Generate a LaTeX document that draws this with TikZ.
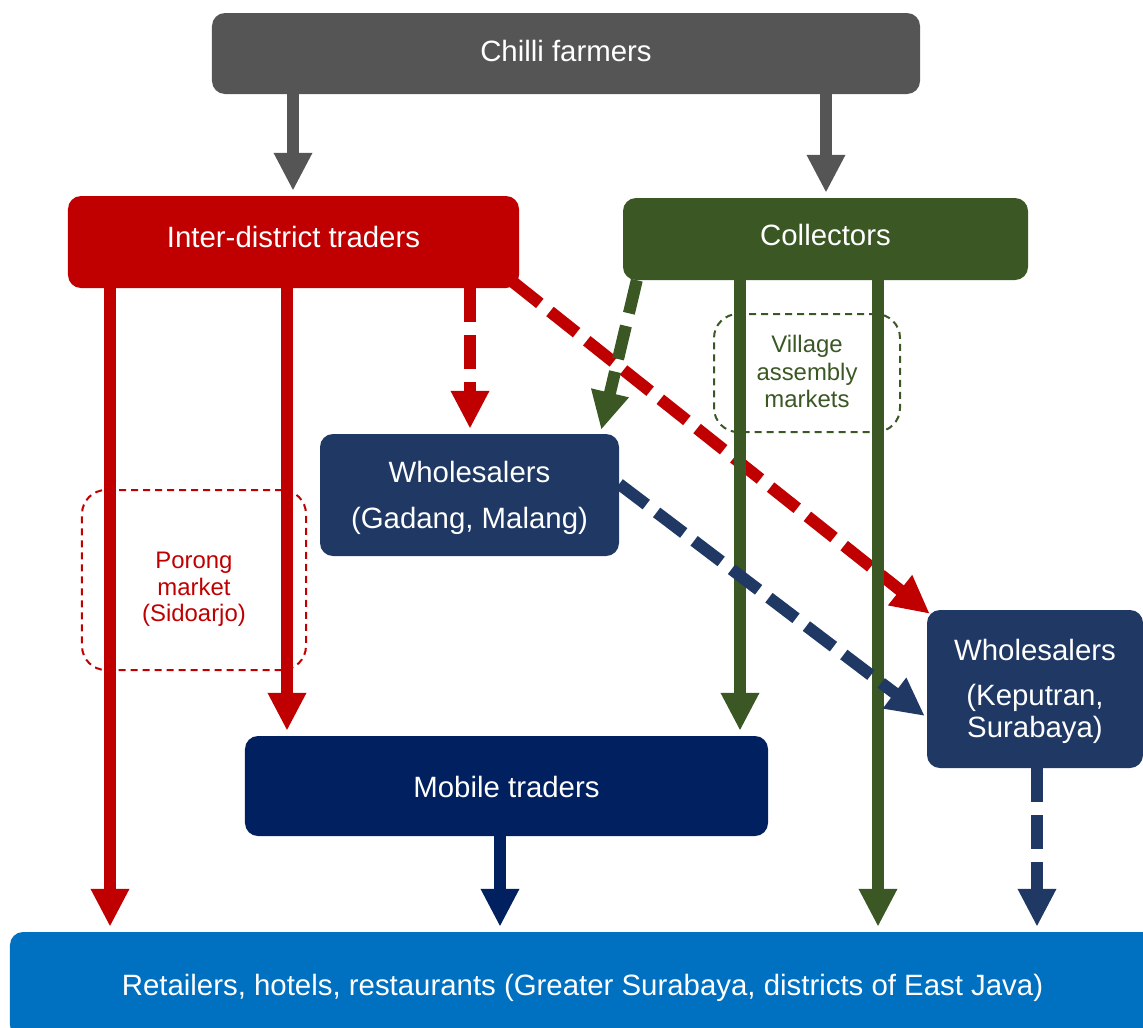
\documentclass[tikz,border=0pt]{standalone}
\usepackage{fontspec}
\setmainfont{Liberation Sans}
\usetikzlibrary{arrows.meta,calc}

\definecolor{farmgray}{HTML}{555555}
\definecolor{tradered}{HTML}{C00000}
\definecolor{collgreen}{HTML}{3A5724}
\definecolor{wsblue}{HTML}{1F3864}
\definecolor{mobnavy}{HTML}{002060}
\definecolor{retblue}{HTML}{0070C0}

\begin{document}
\begin{tikzpicture}[x=1bp,y=-1bp,
  box/.style={rounded corners=13bp, text=white, align=center, inner sep=0pt,
    font=\fontsize{29.5}{34}\selectfont, text height=21bp},
  market/.style={rounded corners=24bp, dashed, line width=2bp,
    dash pattern=on 7bp off 5bp, align=center, inner sep=0pt,
    font=\fontsize{24}{27}\selectfont, text depth=0bp},
  flow/.style={line width=12bp, -{Triangle[width=36bp,length=38bp]}, shorten >=5bp},
  flowdash/.style={flow, dash pattern=on 34bp off 13bp}
]
\path[use as bounding box] (0,0) rectangle (1143,1028);
\clip (0,0) rectangle (1143,1028);

% dashed market outlines
\node[market, draw=tradered, text=tradered, minimum width=224bp, minimum height=180bp,
  font=\fontsize{24}{26.5}\selectfont, text height=83bp]
  (porong) at (194,580) {Porong\\market\\(Sidoarjo)};
\node[market, draw=collgreen, text=collgreen, minimum width=186bp, minimum height=118bp,
  font=\fontsize{24}{27.5}\selectfont, text height=69bp]
  (village) at (807,373) {Village\\assembly\\markets};

% actors
\node[box, fill=farmgray, minimum width=708bp, minimum height=81bp, text depth=5bp]
  (farm) at (566,53.5) {Chilli farmers};
\node[box, fill=tradered, minimum width=451bp, minimum height=92bp, text depth=10bp]
  (inter) at (293.5,242) {Inter-district traders};
\node[box, fill=collgreen, minimum width=405bp, minimum height=82bp, text depth=8bp]
  (coll) at (825.5,239) {Collectors};
\node[box, fill=wsblue, minimum width=299bp, minimum height=122bp,
  text height=67bp, text depth=0bp]
  (wsg) at (469.5,495) {Wholesalers\\[12bp](Gadang, Malang)};
\node[box, fill=wsblue, minimum width=216bp, minimum height=158bp,
  font=\fontsize{29.5}{32}\selectfont, text height=97bp, text depth=0bp]
  (wsk) at (1035,689) {Wholesalers\\[13bp](Keputran,\\Surabaya)};
\node[box, fill=mobnavy, minimum width=523bp, minimum height=100bp,
  text height=23bp, text depth=0bp]
  (mobile) at (506.5,786) {Mobile traders};
\node[box, fill=retblue, minimum width=1145bp, minimum height=106bp, text depth=0bp]
  (retail) at (582.5,985) {Retailers, hotels, restaurants (Greater Surabaya, districts of East Java)};

% x positions of the vertical connectors
\coordinate (xa) at (293,0);
\coordinate (xb) at (826,0);
\coordinate (xc) at (110,0);
\coordinate (xd) at (287,0);
\coordinate (xe) at (470,0);
\coordinate (xf) at (740,0);
\coordinate (xg) at (878,0);
\coordinate (xh) at (500,0);
\coordinate (xk) at (1037,0);

% farmers
\draw[flow, farmgray] (farm.south -| xa) -- (inter.north -| xa);
\draw[flow, farmgray] (farm.south -| xb) -- (coll.north -| xb);

% inter-district traders
\draw[flow, tradered] (inter.south -| xc) -- (retail.north -| xc);
\draw[flow, tradered] (inter.south -| xd) -- (mobile.north -| xd);
\draw[flowdash, tradered] (inter.south -| xe) -- (wsg.north -| xe);
\draw[flowdash, tradered, shorten >=0pt]
  ($(inter.south east)+(-6,-6)$) -- ($(wsk.north west)+(3,4)$);

% collectors
\draw[flow, collgreen] (coll.south -| xf) -- (mobile.north -| xf);
\draw[flow, collgreen] (coll.south -| xg) -- (retail.north -| xg);
\draw[flowdash, collgreen, shorten >=0pt]
  ($(coll.south west)+(14,0)$) -- ($(wsg.north east)+(-18,-4)$);

% wholesalers and mobile traders
\draw[flowdash, wsblue, shorten >=0pt]
  ($(wsg.east)+(0,-11)$) -- ($(wsk.west)+(-2,27)$);
\draw[flowdash, wsblue] (wsk.south -| xk) -- (retail.north -| xk);
\draw[flow, mobnavy] (mobile.south -| xh) -- (retail.north -| xh);
\end{tikzpicture}
\end{document}
